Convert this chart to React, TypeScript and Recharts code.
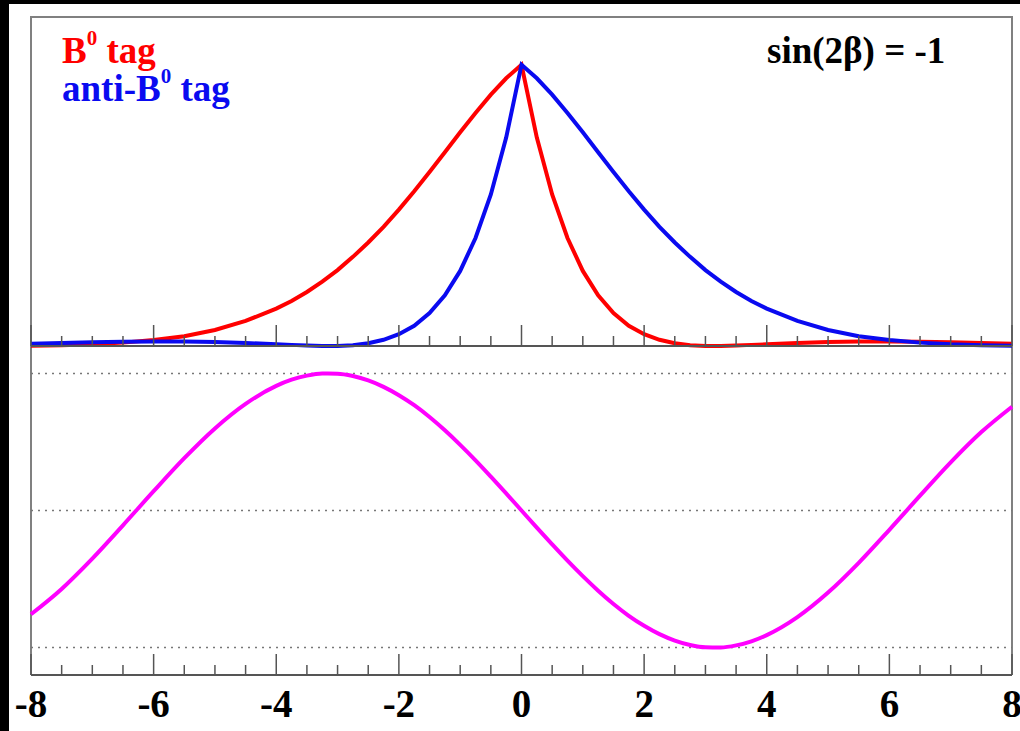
import { Line, LineChart, ReferenceLine, XAxis, YAxis } from "recharts";

// Proper-time axis (ps), finer grid near the cusp at 0.
const time = [
  -8, -7.5, -7, -6.5, -6, -5.5, -5, -4.5, -4, -3.75, -3.5, -3.25, -3, -2.75, -2.5, -2.25, -2,
  -1.75, -1.5, -1.25, -1, -0.75, -0.5, -0.25, 0, 0.25, 0.5, 0.75, 1, 1.25, 1.5, 1.75, 2, 2.25,
  2.5, 2.75, 3, 3.25, 3.5, 3.75, 4, 4.5, 5, 5.5, 6, 6.5, 7, 7.5, 8,
];

// Decay-time distribution for B0-tagged events (red).
const bTag = [
  0.001, 0.003, 0.006, 0.012, 0.021, 0.035, 0.057, 0.089, 0.133, 0.16, 0.192, 0.229, 0.27,
  0.317, 0.368, 0.424, 0.485, 0.55, 0.619, 0.689, 0.76, 0.829, 0.894, 0.952, 1.0, 0.741, 0.539,
  0.384, 0.267, 0.18, 0.117, 0.072, 0.042, 0.022, 0.01, 0.003, 0.0, 0.0, 0.002, 0.004, 0.006,
  0.011, 0.014, 0.016, 0.016, 0.015, 0.013, 0.011, 0.008,
];

// Decay-time distribution for anti-B0-tagged events (blue).
const antiBTag = [
  0.008, 0.011, 0.013, 0.015, 0.016, 0.016, 0.014, 0.011, 0.006, 0.004, 0.002, 0.0, 0.0, 0.003,
  0.01, 0.022, 0.042, 0.072, 0.117, 0.18, 0.267, 0.384, 0.539, 0.741, 1.0, 0.952, 0.894, 0.829,
  0.76, 0.689, 0.619, 0.55, 0.485, 0.424, 0.368, 0.317, 0.27, 0.229, 0.192, 0.16, 0.133, 0.089,
  0.057, 0.035, 0.021, 0.012, 0.006, 0.003, 0.001,
];

// Time-dependent asymmetry (magenta).
const asymmetry = [
  -0.757, -0.572, -0.351, -0.108, 0.141, 0.382, 0.599, 0.778, 0.909, 0.954, 0.984, 0.999, 0.998,
  0.981, 0.949, 0.902, 0.841, 0.768, 0.682, 0.585, 0.479, 0.366, 0.247, 0.125, 0, -0.125, -0.247,
  -0.366, -0.479, -0.585, -0.682, -0.768, -0.841, -0.902, -0.949, -0.981, -0.998, -0.999, -0.984,
  -0.954, -0.909, -0.778, -0.599, -0.382, -0.141, 0.108, 0.351, 0.572, 0.757,
];

const xTicks = [
  -8, -7.5, -7, -6.5, -6, -5.5, -5, -4.5, -4, -3.5, -3, -2.5, -2, -1.5, -1, -0.5, 0, 0.5, 1, 1.5,
  2, 2.5, 3, 3.5, 4, 4.5, 5, 5.5, 6, 6.5, 7, 7.5, 8,
];
const asymLevels = [1, 0, -1];

const rows = time.map((t, i) => ({ t, b0: bTag[i], anti: antiBTag[i], asym: asymmetry[i] }));

const FONT = "'Liberation Serif', 'Times New Roman', serif";
const AXIS = "#555";

/** Upward tick marks: long on even values, short on halves; optional bold label. */
function makeTick(withLabels: boolean) {
  return function Tick(props: any) {
    const { x, y, payload } = props;
    const v = payload.value as number;
    const major = Math.abs(v % 2) < 1e-9;
    return (
      <g>
        <line x1={x} x2={x} y1={y} y2={y - (major ? 21 : 10)} stroke={AXIS} strokeWidth={1.5} />
        {withLabels && major && (
          <text
            x={x}
            y={y + 42}
            textAnchor="middle"
            fontFamily={FONT}
            fontWeight="bold"
            fontSize={39}
            fill="#000"
          >
            {String(v)}
          </text>
        )}
      </g>
    );
  };
}

export default function App() {
  return (
    <div
      style={{
        position: "fixed",
        left: 0,
        top: 0,
        width: 1020,
        height: 731,
        background: "#fff",
        overflow: "hidden",
      }}
    >
      <div style={{ position: "absolute", left: 0, top: 0, width: 1020, height: 4, background: "#000" }} />
      <div style={{ position: "absolute", left: 0, top: 0, width: 9, height: 731, background: "#000" }} />
      <div
        style={{
          position: "absolute",
          left: 30,
          top: 16,
          width: 983,
          height: 659,
          boxSizing: "border-box",
          borderTop: "2px solid #808080",
          borderLeft: "2px solid #808080",
          borderRight: "2px solid #808080",
        }}
      />

      <div style={{ position: "absolute", left: 0, top: 0 }}>
        <LineChart width={1020} height={352} data={rows} margin={{ top: 17, right: 8, bottom: 2, left: 31 }}>
          <XAxis
            dataKey="t"
            type="number"
            domain={[-8, 8]}
            ticks={xTicks}
            interval={0}
            height={4}
            tickSize={0}
            tickMargin={0}
            tickLine={false}
            axisLine={{ stroke: AXIS, strokeWidth: 2 }}
            tick={makeTick(false)}
          />
          <YAxis hide type="number" domain={[0, 1.17]} />
          <Line type="linear" dataKey="b0" stroke="#ff0000" strokeWidth={4} dot={false} isAnimationActive={false} />
          <Line type="linear" dataKey="anti" stroke="#0a0af0" strokeWidth={4} dot={false} isAnimationActive={false} />
        </LineChart>
      </div>

      <div style={{ position: "absolute", left: 0, top: 346 }}>
        <LineChart width={1020} height={385} data={rows} margin={{ top: 0, right: 8, bottom: 0, left: 31 }}>
          <XAxis
            dataKey="t"
            type="number"
            domain={[-8, 8]}
            ticks={xTicks}
            interval={0}
            height={56}
            tickSize={0}
            tickMargin={0}
            tickLine={false}
            axisLine={{ stroke: AXIS, strokeWidth: 2 }}
            tick={makeTick(true)}
          />
          <YAxis hide type="number" domain={[-1.2, 1.2]} />
          {asymLevels.map((v) => (
            <ReferenceLine key={v} y={v} stroke="#777" strokeWidth={1.5} strokeDasharray="2 5" />
          ))}
          <Line type="monotone" dataKey="asym" stroke="#ff00ff" strokeWidth={4} dot={false} isAnimationActive={false} />
        </LineChart>
      </div>

      <svg
        width={1020}
        height={120}
        style={{ position: "absolute", left: 0, top: 0, pointerEvents: "none" }}
        fontFamily={FONT}
        fontWeight="bold"
      >
        <text x={62} y={63} fontSize={37} fill="#ff0000">
          B
          <tspan fontSize={21} dy={-18}>0</tspan>
          <tspan dy={18}> tag</tspan>
        </text>
        <text x={62} y={101} fontSize={37} fill="#0a0af0">
          anti-B
          <tspan fontSize={21} dy={-18}>0</tspan>
          <tspan dy={18}> tag</tspan>
        </text>
        <text x={767} y={63} fontSize={37} fill="#000">
          sin(2β) = -1
        </text>
      </svg>
    </div>
  );
}
